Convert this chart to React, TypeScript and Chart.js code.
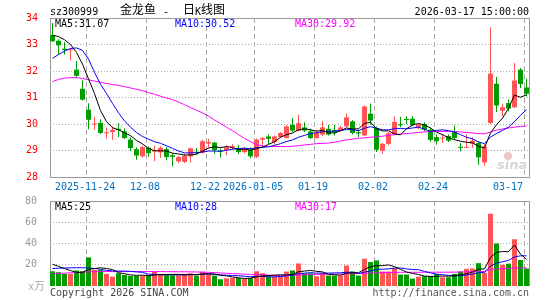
import React, { useEffect, useRef } from 'react';
import { Chart, registerables } from 'chart.js';

Chart.register(...registerables);

// ---------- text ----------
const stockCode = 'sz300999';
const stockName = '金龙鱼';
const chartKind1 = '日';
const chartKind2 = 'K';
const chartKind3 = '线图';
const quoteTime = '2026-03-17 15:00:00';
const priceMaLabels = ['MA5:31.07', 'MA10:30.52', 'MA30:29.92'];
const volumeMaLabels = ['MA5:25', 'MA10:28', 'MA30:17'];
const volumeUnit = '万';
const copyrightText = 'Copyright 2026 SINA.COM';
const siteText = 'http://finance.sina.com.cn';

// ---------- axes ----------
const tickIndex = [6, 16, 26, 34, 44, 54, 64, 79];
const tickLabels = ['2025-11-24', '12-08', '12-22', '2026-01-05', '01-19', '02-02', '02-24', '03-17'];
const priceGridValues = [33, 32, 31, 30, 29];
const volumeGridValues = [60, 40, 20];

// ---------- daily data (80 trading days) ----------
const openPrices = [
  33.36, 33.14, 32.84, 32.78, 32.05, 31.33, 30.54, 29.98, 30.04, 29.65,
  29.70, 29.82, 29.72, 29.41, 29.05, 28.78, 29.10, 28.96, 28.93, 29.05,
  28.82, 28.59, 28.57, 28.78, 28.95, 28.92, 29.26, 29.30, 29.00, 29.02,
  29.12, 29.08, 28.94, 29.03, 28.76, 29.41, 29.53, 29.32, 29.51, 29.47,
  29.97, 29.75, 29.87, 29.72, 29.47, 29.60, 29.82, 29.76, 29.75, 29.91,
  30.10, 29.69, 29.57, 30.39, 29.85, 28.99, 29.25, 29.62, 29.99, 30.19,
  30.20, 29.88, 30.00, 29.78, 29.51, 29.45, 29.55, 29.70, 29.14, 29.10,
  29.26, 29.28, 28.55, 30.04, 31.52, 30.50, 30.79, 30.63, 32.05, 31.38,
];
const highPrices = [
  33.81, 33.20, 33.09, 32.86, 32.37, 31.65, 30.78, 30.26, 30.18, 29.87,
  29.91, 30.03, 29.83, 29.50, 29.12, 29.18, 29.15, 29.18, 29.16, 29.13,
  28.90, 28.80, 28.88, 29.10, 29.09, 29.41, 29.44, 29.32, 29.08, 29.20,
  29.25, 29.22, 29.12, 29.12, 29.45, 29.51, 29.60, 29.57, 29.70, 29.95,
  30.22, 30.35, 30.07, 29.82, 29.78, 30.10, 29.97, 29.97, 29.93, 30.40,
  30.14, 29.79, 30.70, 30.77, 29.91, 29.28, 29.70, 30.28, 30.27, 30.29,
  30.30, 30.02, 30.06, 29.86, 29.60, 29.61, 29.60, 29.94, 29.28, 29.61,
  29.50, 29.35, 29.25, 33.65, 31.77, 30.76, 30.92, 32.30, 32.11, 31.71,
];
const lowPrices = [
  33.10, 32.62, 32.62, 32.40, 31.75, 30.88, 29.80, 29.78, 29.62, 29.45,
  29.41, 29.50, 29.43, 28.97, 28.65, 28.74, 28.76, 28.59, 28.72, 28.63,
  28.40, 28.53, 28.53, 28.55, 28.84, 28.88, 29.10, 28.88, 28.74, 28.82,
  29.03, 28.86, 28.90, 28.71, 28.72, 29.16, 29.25, 29.22, 29.47, 29.45,
  29.70, 29.72, 29.69, 29.43, 29.44, 29.55, 29.57, 29.57, 29.72, 29.87,
  29.60, 29.50, 29.55, 29.97, 28.94, 28.88, 29.20, 29.58, 29.88, 30.00,
  29.92, 29.80, 29.72, 29.33, 29.22, 29.28, 29.32, 29.41, 28.97, 29.09,
  29.09, 28.46, 28.42, 30.00, 30.45, 30.29, 30.48, 30.60, 31.36, 31.04,
];
const closePrices = [
  33.12, 32.97, 32.79, 32.82, 31.82, 30.92, 30.16, 30.01, 29.66, 29.68,
  29.78, 29.77, 29.47, 29.09, 28.81, 29.13, 28.90, 29.00, 29.10, 28.75,
  28.76, 28.75, 28.80, 29.08, 28.91, 29.35, 29.32, 29.02, 28.95, 29.12,
  29.16, 28.94, 29.06, 28.78, 29.41, 29.47, 29.44, 29.53, 29.66, 29.91,
  29.75, 30.03, 29.75, 29.47, 29.66, 29.87, 29.60, 29.68, 29.87, 30.25,
  29.66, 29.64, 30.66, 30.13, 29.03, 29.25, 29.65, 30.08, 29.95, 30.15,
  29.96, 29.97, 29.79, 29.40, 29.35, 29.48, 29.37, 29.47, 29.10, 29.13,
  29.37, 28.74, 29.15, 31.90, 30.70, 30.63, 30.58, 31.64, 31.51, 31.14,
];
const volumes = [
  13.9, 13.0, 11.4, 11.4, 14.6, 13.9, 26.9, 15.2, 15.2, 11.4,
  8.8, 12.0, 10.4, 9.5, 9.5, 9.5, 9.8, 13.3, 11.4, 10.1,
  10.1, 10.1, 11.4, 12.0, 9.8, 13.3, 11.4, 9.8, 6.3, 7.2,
  7.6, 7.6, 6.6, 7.6, 13.9, 12.0, 8.8, 8.8, 8.8, 13.6,
  14.6, 21.2, 12.0, 12.0, 9.2, 12.0, 9.8, 9.8, 9.8, 19.3,
  13.6, 9.8, 25.7, 22.5, 24.1, 13.6, 13.6, 16.8, 10.8, 10.8,
  7.0, 8.8, 9.2, 9.2, 11.4, 8.2, 8.2, 11.4, 13.6, 16.2,
  16.5, 21.5, 12.5, 68.0, 40.0, 20.0, 21.0, 44.0, 24.5, 16.5,
];

// ---------- moving averages as drawn ----------
const ma5 = [
  33.35, 33.30, 33.18, 33.00, 32.70, 32.26, 31.70, 31.15, 30.51, 30.09,
  29.86, 29.78, 29.67, 29.56, 29.38, 29.25, 29.08, 28.99, 28.99, 28.98,
  28.90, 28.87, 28.83, 28.83, 28.86, 28.98, 29.09, 29.14, 29.11, 29.15,
  29.11, 29.04, 29.05, 29.01, 29.07, 29.13, 29.23, 29.33, 29.50, 29.60,
  29.66, 29.78, 29.82, 29.78, 29.73, 29.76, 29.67, 29.66, 29.74, 29.85,
  29.81, 29.82, 30.02, 30.07, 29.82, 29.74, 29.74, 29.63, 29.59, 29.82,
  29.96, 30.02, 29.96, 29.85, 29.69, 29.60, 29.48, 29.41, 29.35, 29.31,
  29.29, 29.16, 29.10, 29.66, 29.97, 30.22, 30.59, 31.09, 31.01, 31.10,
];
const ma10 = [
  32.48, 32.62, 32.75, 32.85, 32.87, 32.78, 32.45, 31.95, 31.50, 31.15,
  30.78, 30.42, 30.12, 29.88, 29.68, 29.53, 29.43, 29.33, 29.27, 29.18,
  29.08, 28.98, 28.91, 28.91, 28.92, 28.94, 28.98, 28.98, 28.97, 29.01,
  29.05, 29.07, 29.09, 29.06, 29.11, 29.12, 29.14, 29.19, 29.26, 29.34,
  29.40, 29.50, 29.57, 29.64, 29.67, 29.71, 29.72, 29.74, 29.76, 29.79,
  29.78, 29.75, 29.84, 29.90, 29.84, 29.78, 29.78, 29.82, 29.83, 29.82,
  29.85, 29.88, 29.80, 29.72, 29.76, 29.78, 29.75, 29.69, 29.60, 29.50,
  29.44, 29.32, 29.26, 29.51, 29.64, 29.76, 29.88, 30.09, 30.33, 30.54,
];
const ma30 = [
  31.60, 31.68, 31.73, 31.75, 31.75, 31.72, 31.67, 31.62, 31.57, 31.53,
  31.49, 31.46, 31.41, 31.36, 31.31, 31.26, 31.19, 31.12, 31.05, 30.98,
  30.92, 30.83, 30.73, 30.62, 30.52, 30.42, 30.30, 30.15, 30.02, 29.88,
  29.75, 29.60, 29.46, 29.33, 29.22, 29.17, 29.15, 29.15, 29.15, 29.15,
  29.16, 29.18, 29.21, 29.23, 29.26, 29.27, 29.28, 29.31, 29.36, 29.40,
  29.43, 29.46, 29.48, 29.50, 29.52, 29.54, 29.57, 29.60, 29.62, 29.64,
  29.66, 29.68, 29.70, 29.71, 29.72, 29.72, 29.72, 29.72, 29.70, 29.68,
  29.66, 29.64, 29.63, 29.70, 29.77, 29.81, 29.85, 29.88, 29.91, 29.92,
];
const volMa5 = [
  20.5, 18.5, 16.5, 14.5, 12.86, 12.86, 15.64, 16.40, 17.16, 16.52,
  15.50, 12.52, 11.56, 10.42, 10.04, 10.18, 9.74, 10.32, 10.70, 10.82,
  10.94, 11.00, 10.62, 10.74, 10.68, 11.32, 11.58, 11.26, 10.12, 9.60,
  8.46, 7.70, 7.06, 7.32, 8.66, 9.54, 9.78, 10.22, 10.46, 10.40,
  10.92, 13.40, 14.04, 14.68, 13.80, 13.28, 11.00, 10.56, 10.12, 12.14,
  12.46, 12.46, 15.64, 18.18, 19.14, 19.14, 19.90, 18.12, 15.78, 13.12,
  11.80, 10.84, 9.32, 9.00, 9.12, 9.36, 9.24, 9.68, 10.56, 11.52,
  13.18, 15.84, 16.06, 26.94, 31.70, 32.40, 32.30, 38.60, 29.90, 25.20,
];
const volMa10 = [
  16.5, 16.7, 16.9, 17.1, 17.2, 17.2, 17.0, 16.5, 15.8, 14.69,
  14.18, 14.08, 13.98, 13.79, 13.28, 12.84, 11.13, 10.94, 10.56, 10.43,
  10.56, 10.37, 10.47, 10.72, 10.75, 11.13, 11.29, 10.94, 10.43, 10.14,
  9.89, 9.64, 9.16, 8.72, 9.13, 9.00, 8.74, 8.64, 8.89, 9.53,
  10.23, 11.59, 12.13, 12.57, 12.10, 12.10, 12.20, 12.30, 12.40, 12.97,
  12.87, 11.73, 13.10, 14.15, 15.64, 15.80, 16.18, 16.88, 16.98, 16.13,
  15.47, 15.37, 13.72, 12.39, 11.12, 10.58, 10.04, 9.50, 9.78, 10.32,
  11.27, 12.54, 12.87, 18.75, 21.61, 22.79, 24.07, 27.33, 28.42, 28.45,
];
const volMa30 = [
  11.5, 11.8, 12.1, 12.4, 12.7, 13.0, 13.3, 13.5, 13.6, 13.6,
  13.6, 13.6, 13.6, 13.6, 13.6, 13.6, 13.6, 13.6, 13.6, 13.5,
  13.5, 13.4, 13.4, 13.3, 13.2, 13.1, 12.9, 12.6, 12.3, 12.0,
  11.7, 11.4, 11.1, 10.9, 10.7, 10.5, 10.3, 10.1, 10.0, 10.0,
  10.1, 10.3, 10.5, 10.7, 10.9, 11.0, 11.1, 11.2, 11.3, 11.5,
  11.6, 11.7, 12.0, 12.2, 12.5, 12.6, 12.7, 12.8, 12.9, 12.9,
  12.9, 12.9, 13.0, 13.0, 13.0, 13.0, 13.0, 13.1, 13.2, 13.3,
  13.4, 13.6, 13.6, 15.4, 16.0, 16.3, 16.6, 16.9, 17.1, 17.1,
];

// ---------- styles ----------
const UP = '#ff5555';
const DOWN = '#009c00';
const GRID = '#aaaaaa';
const BORDER = '#999999';
const MONO = '10px "DejaVu Sans Mono", monospace';
const CJK = '12px "Noto Sans CJK SC", sans-serif';
const X_MIN = -2.5 / 6;
const X_MAX = 79 + 2.5 / 6;

const idx = closePrices.map((_, i) => i);
const candleColors = idx.map((i) => (closePrices[i] >= openPrices[i] ? UP : DOWN));

function drawText(ctx: CanvasRenderingContext2D, s: string, x: number, y: number, color: string, font: string, align: CanvasTextAlign = 'left') {
  ctx.font = font;
  ctx.fillStyle = color;
  ctx.textAlign = align;
  ctx.textBaseline = 'alphabetic';
  ctx.fillText(s, x, y);
}

function gridPixelX(chart: any, i: number) {
  return Math.floor(chart.scales.x.getPixelForValue(i) - 2) + 0.5;
}

function hLine(ctx: CanvasRenderingContext2D, x1: number, x2: number, y: number) {
  ctx.beginPath();
  ctx.moveTo(x1, y);
  ctx.lineTo(x2, y);
  ctx.stroke();
}
function vLine(ctx: CanvasRenderingContext2D, x: number, y1: number, y2: number) {
  ctx.beginPath();
  ctx.moveTo(x, y1);
  ctx.lineTo(x, y2);
  ctx.stroke();
}

const pricePlugin = {
  id: 'priceDecor',
  beforeDatasetsDraw(chart: any) {
    const { ctx, chartArea: a, scales } = chart;
    ctx.save();
    ctx.lineWidth = 1;
    ctx.strokeStyle = GRID;
    ctx.setLineDash([1, 2]);
    for (const v of priceGridValues) {
      hLine(ctx, a.left, a.right, Math.floor(scales.y.getPixelForValue(v)) + 0.5);
    }
    ctx.setLineDash([5, 3]);
    for (const i of tickIndex) vLine(ctx, gridPixelX(chart, i), a.top, a.bottom);
    ctx.setLineDash([]);
    // watermark
    ctx.fillStyle = '#f3c6c6';
    ctx.beginPath();
    ctx.arc(508, 156, 4, 0, Math.PI * 2);
    ctx.fill();
    drawText(ctx, 'sina', 497, 169, '#d6d6d6', 'italic bold 13px "DejaVu Sans", sans-serif');
    ctx.strokeStyle = BORDER;
    ctx.strokeRect(a.left + 0.5, a.top + 0.5, a.right - a.left, a.bottom - a.top);
    ctx.restore();
  },
  afterDraw(chart: any) {
    const { ctx, chartArea: a } = chart;
    ctx.save();
    drawText(ctx, stockCode, 50, 15, '#000', MONO);
    drawText(ctx, stockName, 120, 14, '#000', CJK);
    drawText(ctx, '-', 163, 15, '#000', MONO);
    drawText(ctx, chartKind1, 183, 14, '#000', CJK);
    drawText(ctx, chartKind2, 195, 15, '#000', MONO);
    drawText(ctx, chartKind3, 201, 14, '#000', CJK);
    drawText(ctx, quoteTime, a.right, 15, '#000', MONO, 'right');
    drawText(ctx, priceMaLabels[0], 55, 27, '#000', MONO);
    drawText(ctx, priceMaLabels[1], 175, 27, '#0000ff', MONO);
    drawText(ctx, priceMaLabels[2], 295, 27, '#ff00ff', MONO);
    ctx.font = MONO;
    tickIndex.forEach((ti, k) => {
      const label = tickLabels[k];
      const w = ctx.measureText(label).width;
      let cx = gridPixelX(chart, ti) - 1.5;
      cx = Math.min(cx, a.right - 6 - w / 2);
      drawText(ctx, label, Math.round(cx - w / 2), 190, '#0070c0', MONO);
    });
    ctx.restore();
  },
};

const volumePlugin = {
  id: 'volumeDecor',
  beforeDatasetsDraw(chart: any) {
    const { ctx, chartArea: a, scales } = chart;
    ctx.save();
    ctx.lineWidth = 1;
    ctx.strokeStyle = GRID;
    ctx.setLineDash([1, 2]);
    for (const v of volumeGridValues) {
      hLine(ctx, a.left, a.right, Math.floor(scales.y.getPixelForValue(v)) + 0.5);
    }
    ctx.setLineDash([5, 3]);
    for (const i of tickIndex) vLine(ctx, gridPixelX(chart, i), a.top, a.bottom);
    ctx.setLineDash([]);
    ctx.strokeStyle = BORDER;
    ctx.beginPath();
    ctx.moveTo(a.left + 0.5, a.bottom);
    ctx.lineTo(a.left + 0.5, a.top + 0.5);
    ctx.lineTo(a.right + 0.5, a.top + 0.5);
    ctx.lineTo(a.right + 0.5, a.bottom);
    ctx.stroke();
    ctx.restore();
  },
  afterDraw(chart: any) {
    const { ctx, chartArea: a } = chart;
    ctx.save();
    drawText(ctx, volumeMaLabels[0], 55, 210, '#000', MONO);
    drawText(ctx, volumeMaLabels[1], 175, 210, '#0000ff', MONO);
    drawText(ctx, volumeMaLabels[2], 295, 210, '#ff00ff', MONO);
    drawText(ctx, 'x', 28, 290, '#aaaaaa', MONO);
    drawText(ctx, volumeUnit, 34, 290, '#aaaaaa', '11px "Noto Sans CJK SC", sans-serif');
    drawText(ctx, copyrightText, 50, 296, '#444444', MONO);
    drawText(ctx, siteText, a.right, 296, '#555555', MONO, 'right');
    ctx.restore();
  },
};

function lineSet(data: number[], color: string, order: number) {
  return {
    type: 'line' as const,
    data: data.map((v, i) => ({ x: i, y: v })),
    borderColor: color,
    borderWidth: 1,
    pointRadius: 0,
    tension: 0,
    fill: false,
    order,
  };
}

const yAxisFit = (s: any) => {
  s.width = 50;
};

export default function App() {
  const priceRef = useRef<HTMLCanvasElement>(null);
  const volRef = useRef<HTMLCanvasElement>(null);

  useEffect(() => {
    const common = {
      animation: false as const,
      responsive: false,
      devicePixelRatio: 1,
      events: [] as any[],
      plugins: { legend: { display: false }, tooltip: { enabled: false } },
    };

    const price = new Chart(priceRef.current as HTMLCanvasElement, {
      type: 'bar',
      data: {
        datasets: [
          lineSet(ma5, '#000000', 0),
          lineSet(ma10, '#0000ff', 0),
          lineSet(ma30, '#ff00ff', 0),
          {
            type: 'bar',
            data: idx.map((i) => ({ x: i, y: [openPrices[i], closePrices[i]] })) as any,
            backgroundColor: candleColors,
            barThickness: 5,
            grouped: false,
            minBarLength: 1,
            inflateAmount: 0,
            borderWidth: 0,
            order: 2,
          } as any,
          {
            type: 'bar',
            data: idx.map((i) => ({ x: i, y: [lowPrices[i], highPrices[i]] })) as any,
            backgroundColor: candleColors,
            barThickness: 1,
            grouped: false,
            minBarLength: 1,
            inflateAmount: 0,
            borderWidth: 0,
            order: 3,
          } as any,
        ],
      },
      options: {
        ...common,
        layout: { padding: { left: 0, right: 16, top: 18, bottom: 123 } },
        scales: {
          x: { type: 'linear', min: X_MIN, max: X_MAX, display: false, offset: false },
          y: {
            min: 28,
            max: 34,
            afterFit: yAxisFit,
            grid: { display: false },
            border: { display: false },
            ticks: { stepSize: 1, color: '#ff0000', padding: 4, font: { family: '"DejaVu Sans Mono", monospace', size: 10 } },
          },
        },
      } as any,
      plugins: [pricePlugin],
    });

    const volume = new Chart(volRef.current as HTMLCanvasElement, {
      type: 'bar',
      data: {
        datasets: [
          lineSet(volMa5, '#000000', 0),
          lineSet(volMa10, '#0000ff', 0),
          lineSet(volMa30, '#ff00ff', 0),
          {
            type: 'bar',
            data: idx.map((i) => ({ x: i, y: volumes[i] })) as any,
            backgroundColor: candleColors,
            barThickness: 5,
            grouped: false,
            inflateAmount: 0,
            borderWidth: 0,
            order: 2,
          } as any,
        ],
      },
      options: {
        ...common,
        layout: { padding: { left: 0, right: 16, top: 201, bottom: 14 } },
        scales: {
          x: { type: 'linear', min: X_MIN, max: X_MAX, display: false, offset: false },
          y: {
            min: 0,
            max: 80,
            afterFit: yAxisFit,
            grid: { display: false },
            border: { display: false },
            ticks: {
              stepSize: 20,
              color: '#999999',
              padding: 5,
              font: { family: '"DejaVu Sans Mono", monospace', size: 10 },
              callback: (v: any) => (v === 0 ? '' : String(v)),
            },
          },
        },
      } as any,
      plugins: [volumePlugin],
    });

    return () => {
      price.destroy();
      volume.destroy();
    };
  }, []);

  return (
    <div style={{ position: 'fixed', left: 0, top: 0, width: 545, height: 300, background: '#ffffff' }}>
      <canvas ref={priceRef} width={545} height={300} style={{ position: 'absolute', left: 0, top: 0 }} />
      <canvas ref={volRef} width={545} height={300} style={{ position: 'absolute', left: 0, top: 0 }} />
    </div>
  );
}
